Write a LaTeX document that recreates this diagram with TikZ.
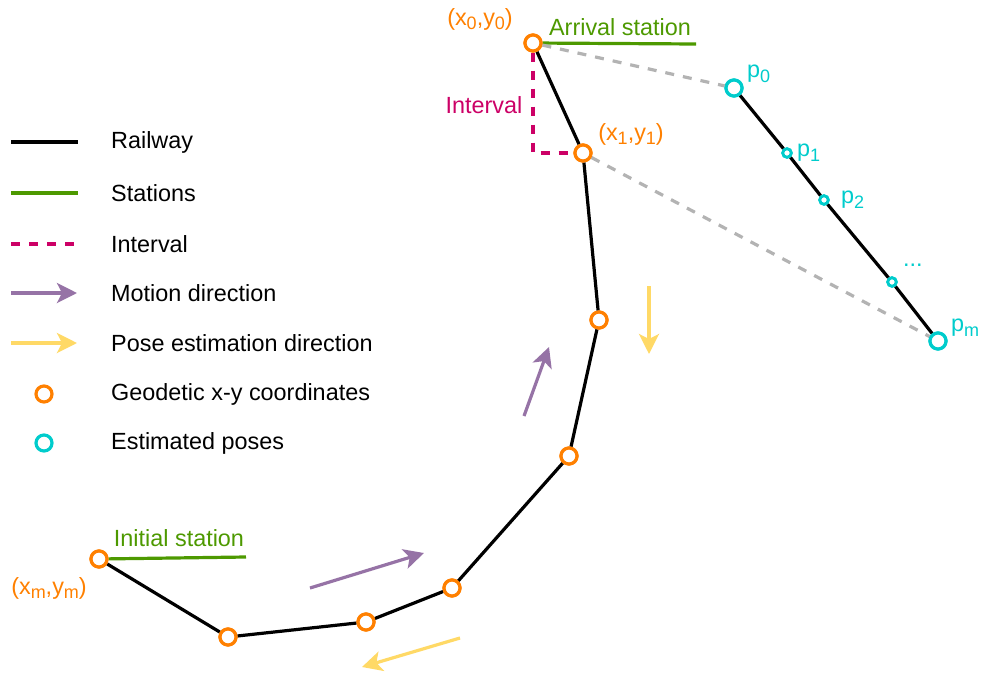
\documentclass[tikz,border=0pt]{standalone}
\usepackage{fontspec}
\setmainfont{Liberation Sans}
\usetikzlibrary{arrows.meta}
\definecolor{rail}{HTML}{000000}
\definecolor{stn}{HTML}{4D9900}
\definecolor{ivl}{HTML}{CC0066}
\definecolor{mot}{HTML}{9673A6}
\definecolor{pose}{HTML}{FFD966}
\definecolor{geo}{HTML}{FF8000}
\definecolor{est}{HTML}{00CCCC}
\definecolor{link}{HTML}{B3B3B3}
\newcommand\lo[1]{\raisebox{-0.35ex}{\fontsize{18}{18}\selectfont #1}}
\tikzset{
  txt/.style={font=\fontsize{23.4}{27}\selectfont, inner sep=0pt},
  railway/.style={draw=rail, line width=3.2pt},
  station/.style={draw=stn, line width=3.2pt},
  intervalline/.style={draw=ivl, line width=3.2pt, dash pattern=on 9pt off 9pt},
  linkline/.style={draw=link, line width=3.2pt, dash pattern=on 9pt off 9pt},
  motionarrow/.style={draw=mot, line width=3.2pt, -{Stealth[length=20pt,width=20pt,inset=5pt]}},
  posearrow/.style={draw=pose, line width=3.2pt, -{Stealth[length=20pt,width=20pt,inset=5pt]}},
  geopt/.style={circle, draw=geo, fill=white, line width=3.2pt, minimum size=16pt, inner sep=0pt},
  estbig/.style={circle, draw=est, fill=white, line width=3.2pt, minimum size=16pt, inner sep=0pt},
  estsmall/.style={circle, draw=est, fill=white, line width=2.8pt, minimum size=8.5pt, inner sep=0pt},
}
\begin{document}
\begin{tikzpicture}[x=1pt, y=-1pt]
\useasboundingbox (0,0) rectangle (982,675);

% ---------- legend ----------
\coordinate (l1a) at (11,142); \coordinate (l1b) at (78,142);
\coordinate (l2a) at (11,193); \coordinate (l2b) at (78,193);
\coordinate (l3a) at (11,244); \coordinate (l3b) at (78,244);
\coordinate (l4a) at (11,293); \coordinate (l4b) at (77,293);
\coordinate (l5a) at (11,343); \coordinate (l5b) at (77,343);
\draw[railway] (l1a) -- (l1b);
\draw[station] (l2a) -- (l2b);
\draw[intervalline] (l3a) -- (l3b);
\draw[motionarrow] (l4a) -- (l4b);
\draw[posearrow] (l5a) -- (l5b);
\node[geopt] (lgeo) at (44,394) {};
\node[estbig] (lest) at (44,443) {};
\node[txt, anchor=west] (t1) at (111,142) {Railway};
\node[txt, anchor=west] (t2) at (111,193) {Stations};
\node[txt, anchor=west] (t3) at (111,244) {Interval};
\node[txt, anchor=west] (t4) at (111,293) {Motion direction};
\node[txt, anchor=west] (t5) at (111,343) {Pose estimation direction};
\node[txt, anchor=west] (t6) at (111,394) {Geodetic x-y coordinates};
\node[txt, anchor=west] (t7) at (111,443) {Estimated poses};

% ---------- railway track ----------
\node[geopt] (g0) at (533,43) {};
\node[geopt] (g1) at (583,153) {};
\node[geopt] (g2) at (599,320) {};
\node[geopt] (g3) at (569,456) {};
\node[geopt] (g4) at (452,588) {};
\node[geopt] (g5) at (366,622) {};
\node[geopt] (g6) at (228,637) {};
\node[geopt] (g7) at (99,559) {};

% stations
\coordinate (arrEnd) at (696,44);
\coordinate (iniEnd) at (246,557);
\draw[station] (g0) -- (arrEnd);
\draw[station] (g7) -- (iniEnd);

% interval between the first two coordinates
\coordinate (ivCorner) at (533,153);
\draw[intervalline] (g0) -- (ivCorner) -- (g1);

% estimated poses
\node[estbig] (e0) at (734,88) {};
\node[estsmall] (e1) at (787,153) {};
\node[estsmall] (e2) at (824,200) {};
\node[estsmall] (e3) at (892,282) {};
\node[estbig] (em) at (938,341) {};
\draw[railway] (e0) -- (e1) -- (e2) -- (e3) -- (em);

% correspondence links
\draw[linkline] (g0) -- (e0);
\draw[linkline] (g1) -- (em);

\draw[railway] (g0) -- (g1) -- (g2) -- (g3) -- (g4) -- (g5) -- (g6) -- (g7);
\foreach \n in {g0,g1,g2,g3,g4,g5,g6,g7} \node[geopt] at (\n) {};
\foreach \n in {e0,em} \node[estbig] at (\n) {};
\foreach \n in {e1,e2,e3} \node[estsmall] at (\n) {};

% direction arrows
\coordinate (m1s) at (310,588); \coordinate (m1e) at (424,553);
\coordinate (m2s) at (524,416); \coordinate (m2e) at (549,347);
\coordinate (p1s) at (649,286); \coordinate (p1e) at (649,354);
\coordinate (p2s) at (460,638); \coordinate (p2e) at (362,667);
\draw[motionarrow] (m1s) -- (m1e);
\draw[motionarrow] (m2s) -- (m2e);
\draw[posearrow] (p1s) -- (p1e);
\draw[posearrow] (p2s) -- (p2e);

% labels
\node[txt, text=stn] (arrLbl) at (620,27) {Arrival station};
\node[txt, text=stn] (iniLbl) at (179,538) {Initial station};
\node[txt, text=ivl] (ivLbl) at (484,105) {Interval};
\node[txt, text=geo] (g0Lbl) at (480,19) {(x\lo{0},y\lo{0})};
\node[txt, text=geo] (g1Lbl) at (631,134) {(x\lo{1},y\lo{1})};
\node[txt, text=geo] (g7Lbl) at (49,588) {(x\lo{m},y\lo{m})};
\node[txt, text=est, anchor=west] (e0Lbl) at (747,74) {p\lo{0}};
\node[txt, text=est, anchor=west] (e1Lbl) at (797,153) {p\lo{1}};
\node[txt, text=est, anchor=west] (e2Lbl) at (841,200) {p\lo{2}};
\node[txt, text=est, anchor=west] (e3Lbl) at (903,265) {...};
\node[txt, text=est, anchor=west] (emLbl) at (951,328) {p\lo{m}};
\end{tikzpicture}
\end{document}
